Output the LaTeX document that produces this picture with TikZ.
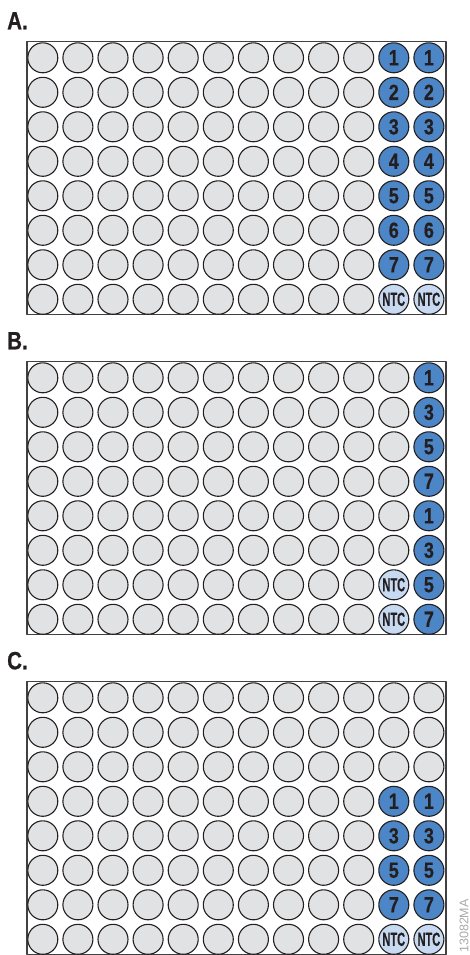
\documentclass[tikz,border=0pt]{standalone}
\usepackage{xcolor}
\usepackage{fontspec}
\usepackage{tikz}
\setmainfont{Liberation Sans}
\newfontfamily\labelfont[FakeStretch=0.82, FakeBold=0.6]{Liberation Sans}
\newfontfamily\wellfont[FakeStretch=0.82, FakeBold=0.4]{Liberation Sans}
\newfontfamily\ntcfont[FakeStretch=0.58, FakeBold=0.3]{Liberation Sans}
\definecolor{plateEdge}{HTML}{414042}
\definecolor{wellInk}{HTML}{231F20}
\definecolor{wellGray}{HTML}{E1E2E3}
\definecolor{sampleBlue}{HTML}{4D86C6}
\definecolor{ntcBlue}{HTML}{C7DAF1}
\definecolor{codeGray}{HTML}{A7A9AC}

\begin{document}
\begin{tikzpicture}[x=1pt, y=-1pt, line cap=round, line join=round,
  plate/.style={draw=plateEdge, line width=1.4pt},
  plateLabel/.style={anchor=base west, inner sep=0pt, text=wellInk,
    font=\labelfont\bfseries\fontsize{25}{25}\selectfont},
  well/.style={circle, draw=wellInk, line width=1.1pt, fill=wellGray,
    minimum size=30pt, inner sep=0pt},
  sample/.style={well, fill=sampleBlue, text=wellInk,
    font=\wellfont\bfseries\fontsize{22}{22}\selectfont},
  ntc/.style={well, fill=ntcBlue, text=wellInk,
    font=\ntcfont\bfseries\fontsize{19}{19}\selectfont}]
  \useasboundingbox (0,0) rectangle (470,955);

  % three plates, columns 1-10 empty
  \foreach \p/\off in {A/0, B/320, C/640}{%
    \node[plateLabel] (label\p) at (7,29.3+\off) {\p.};
    \draw[plate] (27,41.5+\off) rectangle (446,314.7+\off);
    \begin{scope}[shift={(7.7,23.3+\off)}]
      \foreach \r in {1,...,8}
        \foreach \c in {1,...,10}
          \node[well] (\p-\r-\c) at (35.1*\c,34.5*\r) {};
    \end{scope}
  }

  % plate A: duplicates in columns 11 and 12
  \begin{scope}[shift={(7.7,23.3)}]
    \foreach \r in {1,...,7}
      \foreach \c in {11,12}
        \node[sample] (A-\r-\c) at (35.1*\c,34.5*\r) {\r};
    \foreach \c in {11,12}
      \node[ntc] (A-8-\c) at (35.1*\c,34.5*8) {NTC};
  \end{scope}

  % plate B: singles in column 12
  \begin{scope}[shift={(7.7,343.3)}]
    \foreach \r/\lbl in {1/1, 2/3, 3/5, 4/7, 5/1, 6/3, 7/5, 8/7}
      \node[sample] (B-\r-12) at (35.1*12,34.5*\r) {\lbl};
    \foreach \r in {1,...,6}
      \node[well] (B-\r-11) at (35.1*11,34.5*\r) {};
    \foreach \r in {7,8}
      \node[ntc] (B-\r-11) at (35.1*11,34.5*\r) {NTC};
  \end{scope}

  % plate C: duplicates in rows 4-8
  \begin{scope}[shift={(7.7,663.3)}]
    \foreach \r in {1,2,3}
      \foreach \c in {11,12}
        \node[well] (C-\r-\c) at (35.1*\c,34.5*\r) {};
    \foreach \r/\lbl in {4/1, 5/3, 6/5, 7/7}
      \foreach \c in {11,12}
        \node[sample] (C-\r-\c) at (35.1*\c,34.5*\r) {\lbl};
    \foreach \c in {11,12}
      \node[ntc] (C-8-\c) at (35.1*\c,34.5*8) {NTC};
  \end{scope}

  \node[rotate=90, text=codeGray, inner sep=0pt,
    font=\fontsize{12.5}{12.5}\selectfont] (figCode) at (464,926) {13082MA};
\end{tikzpicture}
\end{document}
